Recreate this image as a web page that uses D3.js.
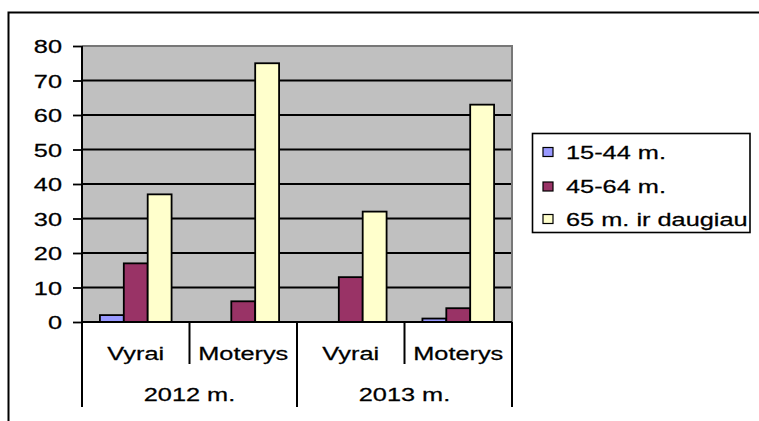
<!DOCTYPE html>
<html>
<head>
<meta charset="utf-8">
<script src="https://cdn.jsdelivr.net/npm/d3@7"></script>
<style>
  html, body { margin: 0; padding: 0; background: #fff; }
  svg { display: block; }
  text { font-family: "Liberation Sans", Arial, sans-serif; fill: #000; stroke: #000; stroke-width: 0.25px; }
</style>
</head>
<body>
<svg id="chart" width="759" height="421"></svg>
<script>
// ---- data ----
const years = ["2012 m.", "2013 m."];
const genders = ["Vyrai", "Moterys"];
const seriesNames = ["15-44 m.", "45-64 m.", "65 m. ir daugiau"];
const s15_44 = [2, 0, 0, 1];
const s45_64 = [17, 6, 13, 4];
const s65plus = [37, 75, 32, 63];
const yTicks = [0, 10, 20, 30, 40, 50, 60, 70, 80];

const seriesValues = [s15_44, s45_64, s65plus];
const colors = ["#9999FF", "#993366", "#FFFFCC"];

// categories: year x gender
const categories = [];
years.forEach(y => genders.forEach(g => categories.push({ year: y, gender: g, key: y + "|" + g })));

const svg = d3.select("#chart");
const FS = 18.5, SX = 1.37;

// outer chart border (extends beyond the picture)
svg.append("rect").attr("x", 8.5).attr("y", 12.5).attr("width", 900).attr("height", 600)
  .attr("fill", "none").attr("stroke", "#000").attr("stroke-width", 2);

const plot = { left: 82, right: 512, top: 46, bottom: 322 };
const y = d3.scaleLinear().domain([0, 80]).range([plot.bottom, plot.top]);
const x0 = d3.scaleBand().domain(categories.map(c => c.key)).range([plot.left, plot.right]).padding(0);
const x1 = d3.scaleBand().domain(seriesNames).range([0, x0.bandwidth()]).paddingInner(0).paddingOuter(0.75);

// plot area
svg.append("rect").attr("x", plot.left).attr("y", plot.top)
  .attr("width", plot.right - plot.left).attr("height", plot.bottom - plot.top)
  .attr("fill", "#C0C0C0");

// gridlines
svg.append("g").selectAll("line").data(yTicks.filter(t => t > 0 && t < 80)).join("line")
  .attr("x1", plot.left).attr("x2", plot.right)
  .attr("y1", d => y(d)).attr("y2", d => y(d))
  .attr("stroke", "#000").attr("stroke-width", 1.8);

// plot area top & right border (gray)
svg.append("path")
  .attr("d", `M${plot.left},${plot.top}H${plot.right}V${plot.bottom}`)
  .attr("fill", "none").attr("stroke", "#777").attr("stroke-width", 2);

// bars
const gBars = svg.append("g");
seriesValues.forEach((vals, si) => {
  gBars.selectAll(null).data(categories.map((c, i) => ({ c, v: vals[i] }))).join("rect")
    .attr("x", d => x0(d.c.key) + x1(seriesNames[si]))
    .attr("y", d => y(d.v))
    .attr("width", x1.bandwidth())
    .attr("height", d => y(0) - y(d.v))
    .attr("fill", colors[si])
    .attr("stroke", "#000").attr("stroke-width", 1.8);
});

// y axis
const yAxis = d3.axisLeft(y).tickValues(yTicks).tickSize(9).tickPadding(11);
const gy = svg.append("g").attr("transform", `translate(${plot.left},0)`).call(yAxis);
gy.select(".domain").remove();
gy.selectAll(".tick line").attr("stroke", "#000").attr("stroke-width", 1.8);
gy.selectAll(".tick text").attr("font-size", FS)
  .attr("font-family", "Liberation Sans, Arial, sans-serif")
  .attr("fill", "#000")
  .each(function () {
    const t = d3.select(this);
    const xx = +t.attr("x");
    t.attr("x", null).attr("dy", "0.36em")
      .attr("transform", `translate(${xx},0) scale(${SX},1)`);
  });

// y axis line extends to the bottom of the category table
const tableBottom = 407, innerBottom = 364;
svg.append("line").attr("x1", plot.left).attr("x2", plot.left)
  .attr("y1", plot.top).attr("y2", tableBottom).attr("stroke", "#000").attr("stroke-width", 2);
// x axis line
svg.append("line").attr("x1", plot.left).attr("x2", plot.right)
  .attr("y1", y(0)).attr("y2", y(0)).attr("stroke", "#000").attr("stroke-width", 2);

// category table separators
const yearBounds = years.map(yr => {
  const ks = categories.filter(c => c.year === yr).map(c => c.key);
  return { year: yr, x0: x0(ks[0]), x1: x0(ks[ks.length - 1]) + x0.bandwidth() };
});
svg.append("g").selectAll("line").data(yearBounds).join("line")
  .attr("x1", d => d.x1).attr("x2", d => d.x1)
  .attr("y1", y(0)).attr("y2", tableBottom).attr("stroke", "#000").attr("stroke-width", 2);
svg.append("g").selectAll("line").data(categories.filter(c => c.gender === genders[0])).join("line")
  .attr("x1", d => x0(d.key) + x0.bandwidth()).attr("x2", d => x0(d.key) + x0.bandwidth())
  .attr("y1", y(0)).attr("y2", innerBottom).attr("stroke", "#000").attr("stroke-width", 2);

// category labels
svg.append("g").selectAll("text").data(categories).join("text")
  .attr("transform", d => `translate(${x0(d.key) + x0.bandwidth() / 2},${353}) scale(${SX},1)`)
  .attr("text-anchor", "middle").attr("dy", "0.36em").attr("font-size", FS)
  .text(d => d.gender);
svg.append("g").selectAll("text").data(yearBounds).join("text")
  .attr("transform", d => `translate(${(d.x0 + d.x1) / 2},${394}) scale(${SX},1)`)
  .attr("text-anchor", "middle").attr("dy", "0.36em").attr("font-size", FS)
  .text(d => d.year);

// legend
const leg = svg.append("g");
leg.append("rect").attr("x", 532.5).attr("y", 133.5).attr("width", 217.5).attr("height", 99)
  .attr("fill", "#fff").attr("stroke", "#000").attr("stroke-width", 1.6);
const rowY = [152, 186.5, 219];
const li = leg.selectAll("g.item").data(seriesNames).join("g").attr("class", "item");
li.append("rect").attr("x", 543).attr("y", (d, i) => rowY[i] - 4.5)
  .attr("width", 10).attr("height", 9)
  .attr("fill", (d, i) => colors[i]).attr("stroke", "#000").attr("stroke-width", 1.2);
li.append("text")
  .attr("transform", (d, i) => `translate(566,${rowY[i]}) scale(${SX},1)`)
  .attr("dy", "0.36em").attr("font-size", FS).text(d => d);
</script>
</body>
</html>
